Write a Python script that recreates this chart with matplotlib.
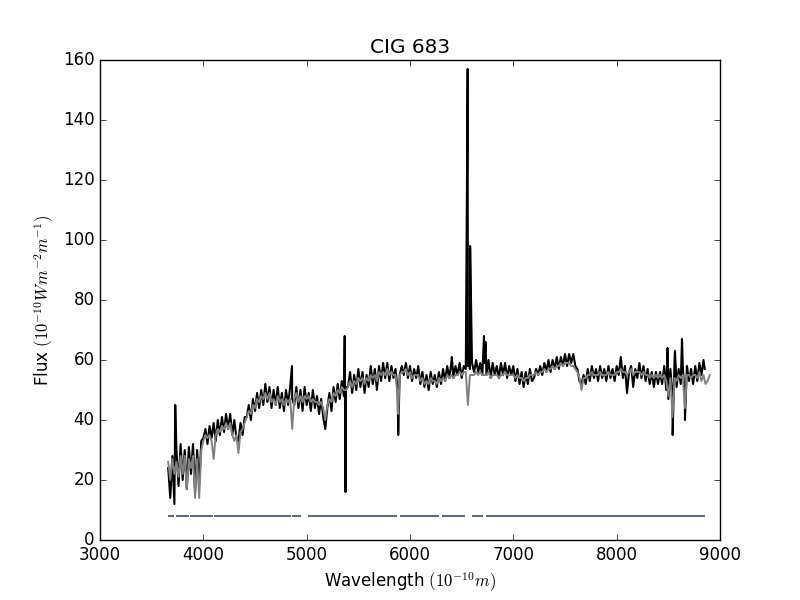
import numpy as np
import matplotlib
matplotlib.use("Agg")
import matplotlib.pyplot as plt

plt.style.use("classic")

STEP = 20.0

# observed spectrum (black), sampled on a 20 A grid, by region start wavelength
obs_3660 = [24,14,28,12,30,18,32,20,30,17,31,22,32,16,30,18,33]
obs_4000 = [34,37,32,38,34,39,33,40,35,41,36,42,37,42,35,40,34,33,39,35,41]
obs_4420 = [41,45,40,47,43,49,44,50,45,52,46,51,44,50,45,51,44,49,43,50,45,51,47]
obs_4880 = [45,51,44,50,43,51,45,49,43,50,44,48,42,47,41,37,44,49,43,51,46,52,47,53,48,51]
obs_5400 = [51,56,49,55,50,57,51,56,49,55,51,58,52,57,50,58,53,59,54,59,53,58,54,57,50]
obs_5900 = [55,58,55,59,54,58,53,57,54,58,52,56,51,55,50,56,52,55,51,56,52,57,53,58,54,59,54,58,55,59,54,58]
obs_6540 = [57,58,57,59,56,60,56,59,55,59,55,60,54,59,55,58,54,59,55,59,54,58,55,58,53,57,52,56,51,56,52,57,53]
obs_7200 = [54,57,55,58,55,59,56,60,56,60,57,61,57,61,58,62,58,62,59,62,58,57,53,52,55,52,57,53,58,54,
            57,53,58,54,57,53,58,54,57,53,58,55,61,54,58,49,56,58,51,57,54,59,54,58,53,57,52,56,51,56,52]
obs_8420 = [56,52,58,50,47,57,48,60,51,57,52,58,47,58,53,57,52,58,53,59,55,60]

# narrow emission lines / spikes in the observed spectrum
obs_line_wave = [3728, 4858, 5368, 5376, 5886, 6405, 6542, 6558, 6566, 6582, 6716, 6731, 8493, 8542, 8564, 8632, 8661, 8852]
obs_line_flux = [45, 58, 68, 16, 35, 61, 68, 157, 62, 98, 68, 66, 64, 35, 63, 67, 40, 57]

# synthetic/model spectrum (grey)
mod_3660 = [26,20,27,22,26,21,28,22,28,17,27,24,28,14,27,14,30]
mod_4000 = [33,35,34,35,33,27,35,37,36,38,37,39,37,39,35,33,35,29,36,37,39]
mod_4420 = [41,43,42,45,44,47,46,48,47,49,47,49,46,47,45,48,46,47,45,47,46,47,37]
mod_4880 = [47,49,46,48,46,48,47,48,46,47,46,46,45,46,44,40,45,47,46,49,48,50,49,51,50,50]
mod_5400 = [51,53,51,53,52,54,53,54,52,54,53,55,54,55,53,56,55,56,55,57,55,56,55,55,48]
mod_5900 = [55,56,56,57,55,56,54,55,55,55,53,54,52,53,52,54,53,53,52,54,53,54,53,55,54,55,54,55,55,56,55,56]
mod_6540 = [56,45,55,55,55,56,55,56,55,55,55,56,54,55,55,55,54,55,55,56,55,55,55,55,54,55,54,54,53,54,54,55,55]
mod_7200 = [55,56,55,56,56,57,56,57,57,58,57,58,58,59,58,59,59,59,58,58,57,56,54,50,54,54,55,55,56,55,
            55,55,56,55,55,55,56,55,55,55,56,56,57,56,56,55,56,57,55,56,56,56,55,56,55,55,54,55,54,55,54]
mod_8420 = [55,54,55,53,48,54,41,54,53,55,54,55,44,55,55,54,55,55,54,56,53,55,52,53,55]
mod_line_wave = [5886]
mod_line_flux = [42]

# masked-region indicator segments
mask_start = [3661, 3735, 3871, 4103, 4855, 5013, 5903, 6310, 6600, 6735]
mask_end = [3716, 3861, 4091, 4845, 4942, 5871, 6284, 6529, 6703, 8855]
mask_level = 8


def assemble(blocks, extra_w, extra_f):
    ws, fs = [], []
    for start, vals in blocks:
        ws.extend(start + STEP * np.arange(len(vals)))
        fs.extend(vals)
    ws.extend(extra_w)
    fs.extend(extra_f)
    ws = np.array(ws, float)
    fs = np.array(fs, float)
    o = np.argsort(ws, kind="stable")
    return ws[o], fs[o]


obs_w, obs_f = assemble([(3660, obs_3660), (4000, obs_4000), (4420, obs_4420), (4880, obs_4880),
                         (5400, obs_5400), (5900, obs_5900), (6540, obs_6540), (7200, obs_7200),
                         (8420, obs_8420)], obs_line_wave, obs_line_flux)
mod_w, mod_f = assemble([(3660, mod_3660), (4000, mod_4000), (4420, mod_4420), (4880, mod_4880),
                         (5400, mod_5400), (5900, mod_5900), (6540, mod_6540), (7200, mod_7200),
                         (8420, mod_8420)], mod_line_wave, mod_line_flux)

fig = plt.figure(figsize=(8, 6), dpi=100)
ax = fig.add_subplot(111)
ax.plot(obs_w, obs_f, color="black", lw=1.5)
ax.plot(mod_w, mod_f, color="0.5", lw=1.4)
for s, e in zip(mask_start, mask_end):
    ax.plot([s, e], [mask_level, mask_level], color="#5f6e73", lw=1.5, solid_capstyle="butt")

ax.set_xlim(3000, 9000)
ax.set_ylim(0, 160)
ax.set_title("CIG 683")
ax.set_xlabel(r"Wavelength $(10^{-10} m)$")
ax.set_ylabel(r"Flux $(10^{-10} Wm^{-2}m^{-1})$")
fig.savefig("out.png", dpi=100)
